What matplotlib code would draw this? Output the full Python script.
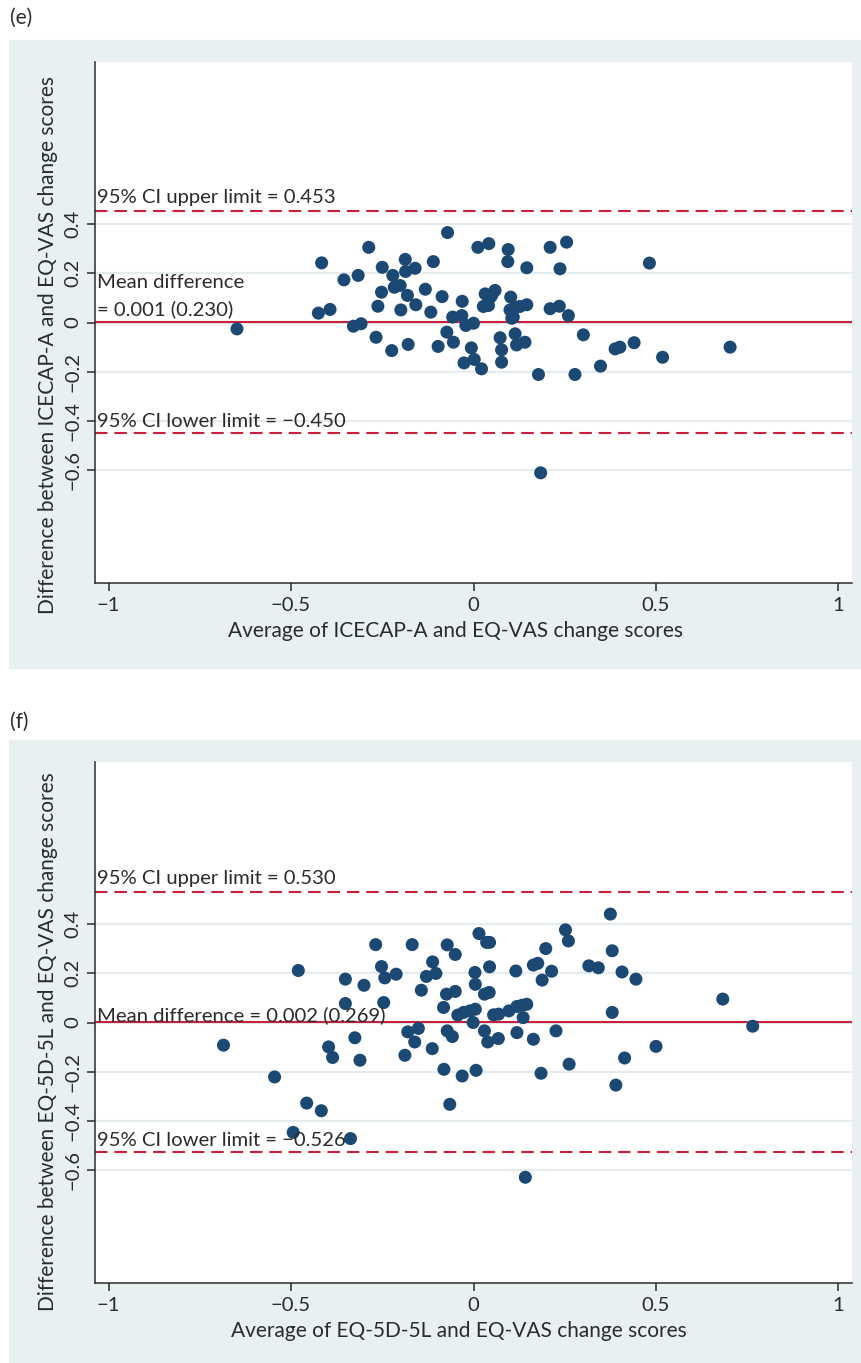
import matplotlib
matplotlib.use("Agg")
import matplotlib.pyplot as plt
from matplotlib.patches import Rectangle

# (e) ICECAP-A vs EQ-VAS: average (x) and difference (y) of change scores
icecap_avg = [-0.648, -0.416, -0.355, -0.316, -0.287, -0.425, -0.393, -0.329, -0.308, -0.267,
              -0.224, -0.179, -0.250, -0.187, -0.160, -0.186, -0.221, -0.252, -0.217, -0.201,
              -0.181, -0.262, -0.199, -0.158, -0.117, -0.132, -0.110, -0.086, -0.071, -0.097,
              -0.073, -0.055, -0.057, -0.032, -0.031, -0.021, 0.000, -0.006, -0.026, 0.002,
              0.022, 0.012, 0.042, 0.095, 0.094, 0.146, 0.032, 0.059, 0.045, 0.027,
              0.041, 0.102, 0.100, 0.109, 0.114, 0.118, 0.073, 0.077, 0.077, 0.141,
              0.210, 0.255, 0.237, 0.482, 0.114, 0.127, 0.146, 0.105, 0.210, 0.235,
              0.260, 0.178, 0.278, 0.301, 0.348, 0.388, 0.401, 0.440, 0.518, 0.703,
              0.184, 0.050]
icecap_diff = [-0.026, 0.242, 0.173, 0.191, 0.305, 0.038, 0.053, -0.015, -0.005, -0.060,
               -0.114, -0.089, 0.224, 0.256, 0.220, 0.207, 0.191, 0.123, 0.143, 0.150,
               0.110, 0.066, 0.051, 0.072, 0.042, 0.135, 0.247, 0.105, 0.365, -0.097,
               -0.039, -0.080, 0.022, 0.028, 0.086, -0.012, -0.003, -0.103, -0.164, -0.150,
               -0.188, 0.305, 0.320, 0.296, 0.247, 0.222, 0.116, 0.130, 0.100, 0.065,
               0.069, 0.103, 0.051, 0.022, -0.046, -0.091, -0.062, -0.111, -0.161, -0.080,
               0.305, 0.326, 0.218, 0.241, 0.062, 0.065, 0.072, 0.017, 0.056, 0.066,
               0.028, -0.211, -0.211, -0.050, -0.177, -0.107, -0.100, -0.082, -0.141, -0.100,
               -0.610, 0.110]

# (f) EQ-5D-5L vs EQ-VAS
eq5d_avg = [-0.685, -0.545, -0.480, -0.397, -0.386, -0.351, -0.351, -0.325, -0.311, -0.300,
            -0.268, -0.252, -0.243, -0.246, -0.212, -0.188, -0.180, -0.161, -0.168, -0.151,
            -0.143, -0.129, -0.112, -0.103, -0.113, -0.072, -0.050, -0.074, -0.050, -0.082,
            -0.043, -0.027, -0.010, 0.005, -0.001, -0.072, -0.058, -0.081, -0.031, 0.007,
            -0.065, 0.015, 0.036, 0.044, 0.004, 0.005, 0.030, 0.043, 0.044, 0.030,
            0.039, 0.068, 0.055, 0.069, 0.097, 0.119, 0.133, 0.146, 0.136, 0.119,
            0.116, 0.164, 0.176, 0.198, 0.214, 0.188, 0.252, 0.260, 0.316, 0.342,
            0.375, 0.380, 0.407, 0.445, 0.380, 0.164, 0.226, 0.185, 0.262, 0.414,
            0.500, 0.390, 0.683, 0.765, 0.142, -0.457, -0.417, -0.494, -0.337]
eq5d_diff = [-0.092, -0.221, 0.211, -0.099, -0.142, 0.176, 0.077, -0.062, -0.153, 0.151,
             0.316, 0.227, 0.181, 0.081, 0.196, -0.133, -0.038, -0.079, 0.316, -0.024,
             0.131, 0.187, 0.246, 0.199, -0.106, 0.315, 0.276, 0.115, 0.126, 0.061,
             0.030, 0.041, 0.047, 0.054, 0.000, -0.034, -0.057, -0.190, -0.217, -0.194,
             -0.332, 0.361, 0.325, 0.325, 0.203, 0.155, 0.115, 0.122, 0.226, -0.034,
             -0.079, -0.065, 0.031, 0.034, 0.047, 0.065, 0.070, 0.074, 0.020, -0.041,
             0.209, 0.233, 0.240, 0.300, 0.208, 0.172, 0.376, 0.331, 0.230, 0.222,
             0.440, 0.291, 0.205, 0.176, 0.041, -0.068, -0.034, -0.206, -0.169, -0.144,
             -0.097, -0.254, 0.095, -0.015, -0.628, -0.327, -0.358, -0.446, -0.471]

x_ticks = [-1, -0.5, 0, 0.5, 1]
x_tick_labels = ["\u22121", "\u22120.5", "0", "0.5", "1"]
y_ticks = [-0.6, -0.4, -0.2, 0, 0.2, 0.4]
y_tick_labels = ["\u22120.6", "\u22120.4", "\u22120.2", "0", "0.2", "0.4"]

W, H = 861, 1363
BG = "#E8F0F2"
DOT = "#1B4973"
RED = "#C8213B"
INK = "#2B2B2B"
FS = 14.6

plt.rcParams['font.family'] = ['Lato', 'DejaVu Sans']
plt.rcParams['font.size'] = FS


def px_box(x0, y0, x1, y1):
    """
    Convert a pixel box (top-left origin) into figure fractions [l, b, w, h]
    """
    return [x0 / W, 1 - y1 / H, (x1 - x0) / W, (y1 - y0) / H]


def bland_altman(fig, box, avg, diff, mean, upper, lower, sd, mean_two_lines):
    """
    Draw one Bland-Altman panel in Stata style
    """
    ax = fig.add_axes(px_box(*box))
    ax.set_facecolor("white")
    ax.set_xlim(-1.037, 1.037)
    ax.set_ylim(-1.057, 1.057)
    for t in y_ticks:
        ax.axhline(t, color="#E4ECEF", lw=1.6, zorder=0)
    ax.axhline(upper, color=RED, lw=1.5, ls=(0, (6, 3.3)), zorder=1)
    ax.axhline(lower, color=RED, lw=1.5, ls=(0, (6, 3.3)), zorder=1)
    ax.axhline(mean, color=RED, lw=1.5, zorder=1)
    ax.scatter(avg, diff, s=88, color=DOT, edgecolors="none", zorder=3)

    ax.set_xticks(x_ticks)
    ax.set_xticklabels(x_tick_labels)
    ax.set_yticks(y_ticks)
    ax.set_yticklabels(y_tick_labels, rotation=90, va="center")
    ax.tick_params(length=6, width=1.1, color=INK, labelcolor=INK, labelsize=FS)
    ax.tick_params(axis="y", pad=4)
    ax.tick_params(axis="x", pad=4)
    for side in ["top", "right"]:
        ax.spines[side].set_visible(False)
    for side in ["left", "bottom"]:
        ax.spines[side].set_color(INK)
        ax.spines[side].set_linewidth(1.1)

    tx = -1.031
    ax.text(tx, upper + 0.03, f"95% CI upper limit = {upper:.3f}", color=INK,
            fontsize=FS, va="baseline", zorder=4)
    ax.text(tx, lower + 0.024, f"95% CI lower limit = \u2212{abs(lower):.3f}", color=INK,
            fontsize=FS, va="baseline", zorder=4)
    if mean_two_lines:
        ax.text(tx, 0.142, "Mean difference", color=INK, fontsize=FS, va="baseline", zorder=4)
        ax.text(tx, 0.028, f"= {mean:.3f} ({sd:.3f})", color=INK, fontsize=FS,
                va="baseline", zorder=4)
    else:
        ax.text(tx, 0.005, f"Mean difference = {mean:.3f} ({sd:.3f})", color=INK,
                fontsize=FS, va="baseline", zorder=4)
    return ax


fig = plt.figure(figsize=(W / 100, H / 100), dpi=100)
fig.add_artist(Rectangle((9 / W, 1 - 668 / H), 1, (668 - 40) / H,
                         transform=fig.transFigure, color=BG, zorder=-1))
fig.add_artist(Rectangle((9 / W, 0), 1, 1 - 740 / H,
                         transform=fig.transFigure, color=BG, zorder=-1))

bland_altman(fig, (95, 62, 852, 583), icecap_avg, icecap_diff,
             0.001, 0.453, -0.450, 0.230, True)
bland_altman(fig, (95, 762, 852, 1283), eq5d_avg, eq5d_diff,
             0.002, 0.530, -0.526, 0.269, False)

fig.text(10 / W, 1 - 18 / H, "(e)", color=INK, fontsize=15, va="center")
fig.text(10 / W, 1 - 722 / H, "(f)", color=INK, fontsize=15, va="center")

fig.text(455 / W, 1 - 631 / H, "Average of ICECAP-A and EQ-VAS change scores",
         color=INK, fontsize=15, ha="center", va="center")
fig.text(48 / W, 1 - 345 / H, "Difference between ICECAP-A and EQ-VAS change scores",
         color=INK, fontsize=15, ha="center", va="center", rotation=90)
fig.text(459 / W, 1 - 1331 / H, "Average of EQ-5D-5L and EQ-VAS change scores",
         color=INK, fontsize=15, ha="center", va="center")
fig.text(48 / W, 1 - 1042 / H, "Difference between EQ-5D-5L and EQ-VAS change scores",
         color=INK, fontsize=15, ha="center", va="center", rotation=90)

fig.savefig("out.png", dpi=100, facecolor="white")
